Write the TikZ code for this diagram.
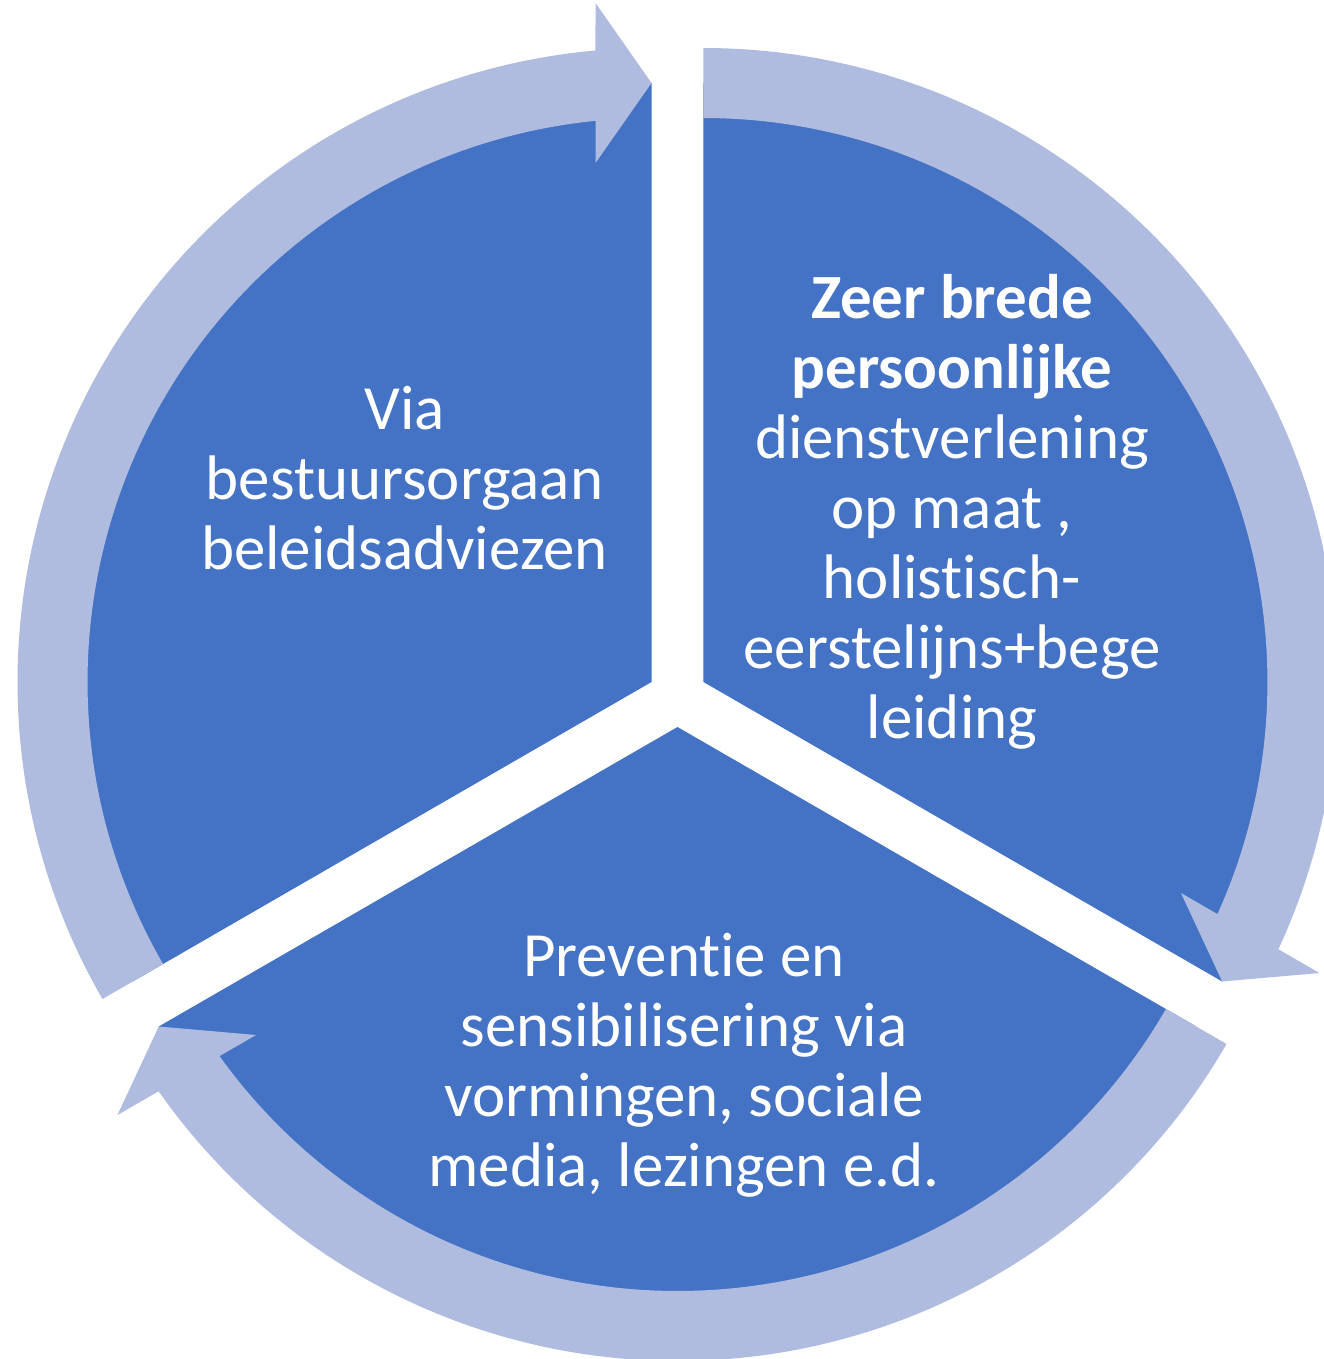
\documentclass[tikz,border=0pt]{standalone}
\usepackage{fontspec}
\setmainfont{Carlito}[Ligatures=NoCommon]
\usetikzlibrary{calc}
\definecolor{segblue}{RGB}{68,114,196}
\definecolor{ringblue}{RGB}{176,188,223}
\begin{document}
\begin{tikzpicture}[x=0.01cm,y=0.01cm,line join=round,
    wedge/.style={fill=segblue},
    ring/.style={fill=ringblue},
    txt/.style={text=white,align=center,font=\fontsize{17.9}{19.9}\selectfont}]
	\useasboundingbox (-677.5,-662) rectangle (646.5,697);
	\clip (-677.5,-662) rectangle (646.5,697);
	\coordinate (c) at (0,0);
	\coordinate (a1) at (30:30);
	\coordinate (a2) at (270:30);
	\coordinate (a3) at (150:30);
	
	% segments
	\foreach \ctr/\sa in {a1/-30,a2/210,a3/90}
		\fill[wedge] (\ctr) -- ++(\sa:599) arc[start angle=\sa,end angle=\sa+120,radius=599] -- cycle;
	
	% arrows round the segments
	\foreach \ctr/\sa/\ta in {a1/90/-30,a2/330/210,a3/210/90}
		\fill[ring] ($(\ctr)+(\sa:634)$) arc[start angle=\sa,end angle=\ta+5.07,radius=634]
			-- ($(\ctr)+(\ta:679)+(\ta+90:56)$) -- ($(\ctr)+(\ta:599)$)
			-- ($(\ctr)+(\ta:519)+(\ta+90:56)$) -- ($(\ctr)+(\ta+5.7:564)$)
			arc[start angle=\ta+5.7,end angle=\sa,radius=564] -- cycle;
	
	\node[txt] (via) at (-273,219) {Via\\bestuursorgaan\\beleidsadviezen};
	\node[txt] (zorg) at (274.5,185) {{\bfseries Zeer brede}\\{\bfseries persoonlijke}\\dienstverlening\\op maat ,\\holistisch-\\eerstelijns+bege\\leiding};
	\node[txt] (preventie) at (6.5,-368) {Preventie en\\sensibilisering via\\vormingen, sociale\\media, lezingen e.d.};
\end{tikzpicture}
\end{document}
